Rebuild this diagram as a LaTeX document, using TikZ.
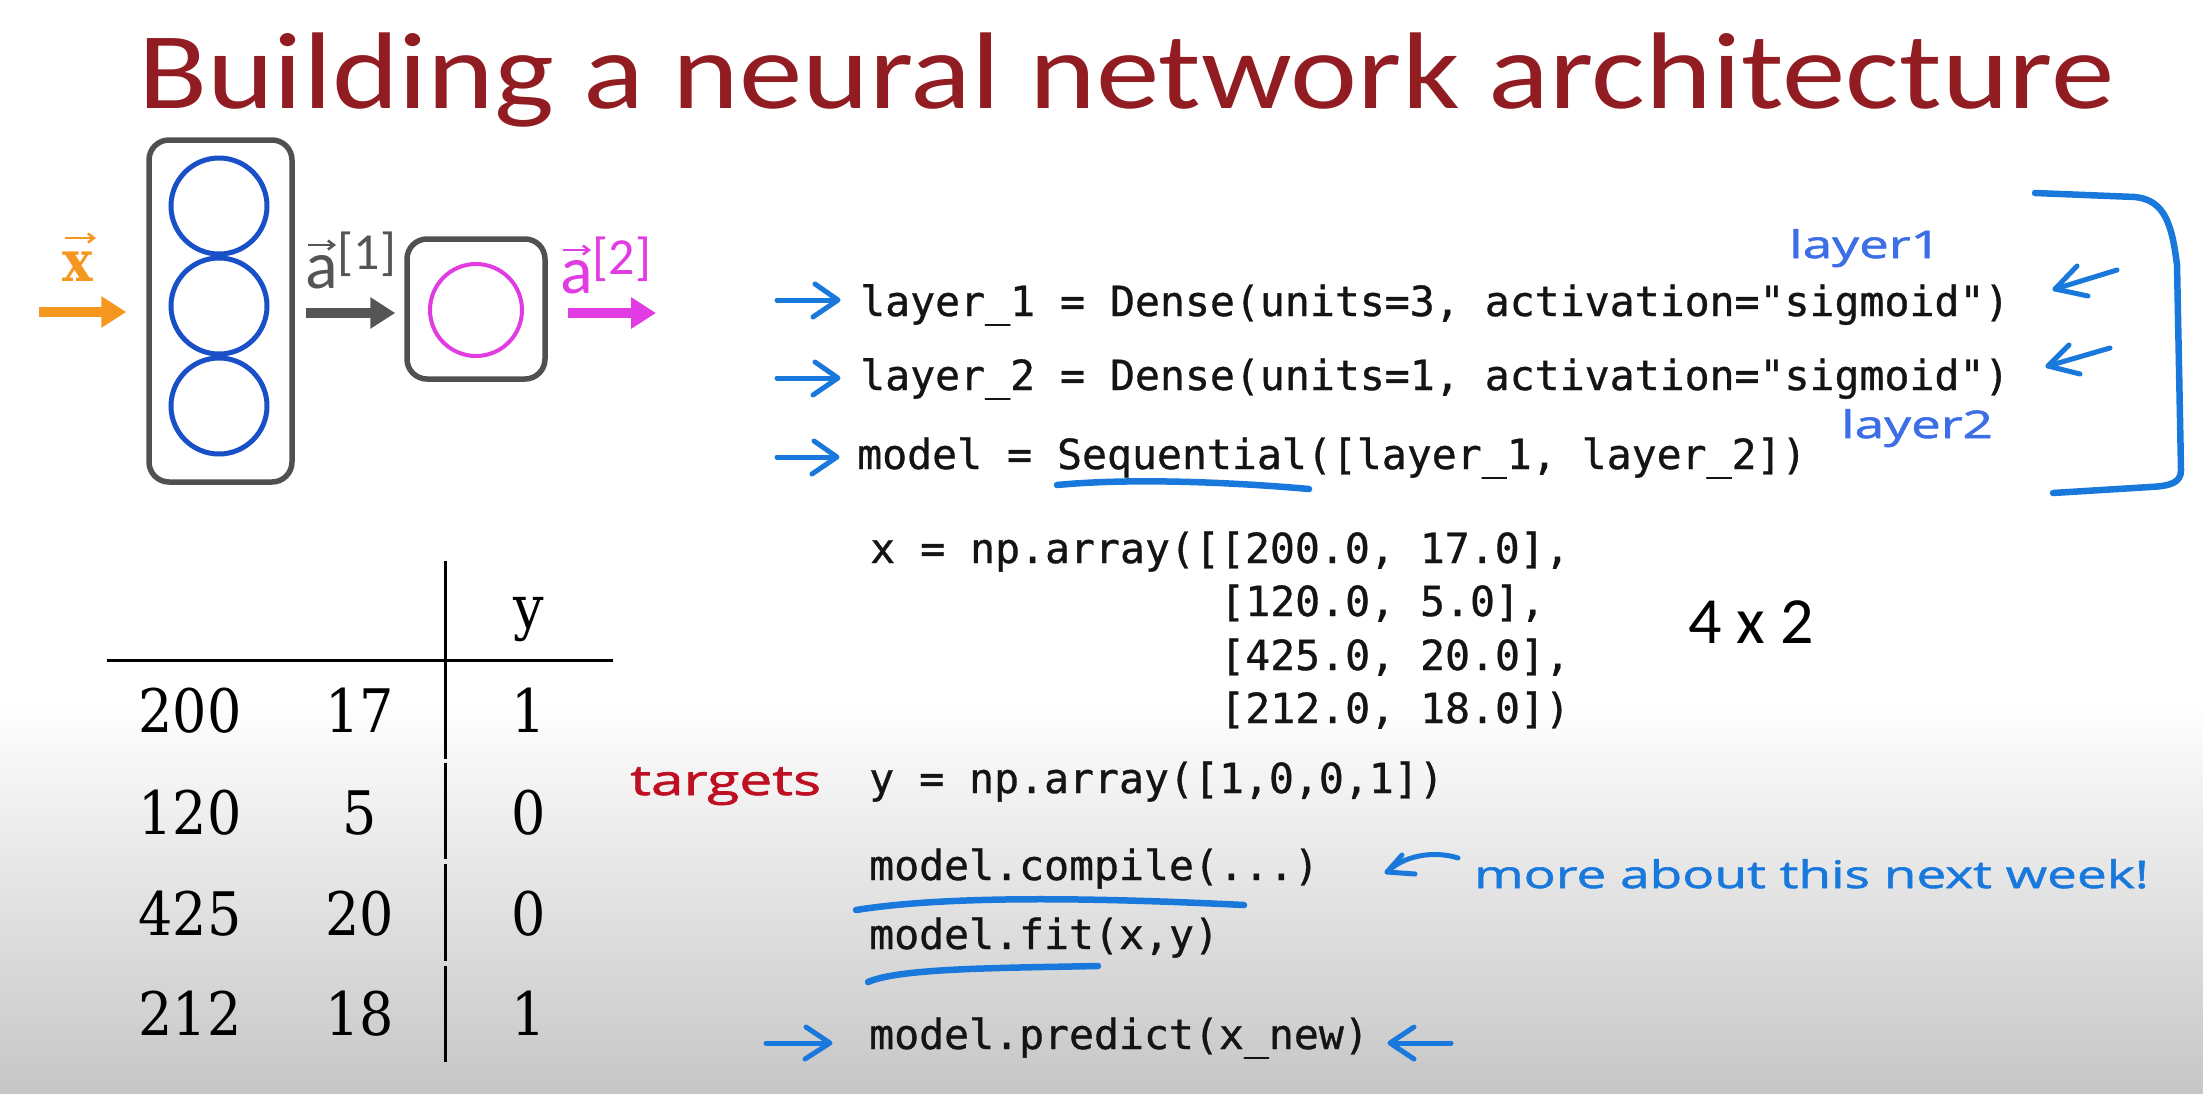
\documentclass[tikz,border=0pt]{standalone}
\usepackage{fontspec}
\usetikzlibrary{arrows.meta}
\newfontfamily\carlito{Carlito}
\newfontfamily\titlefont[FakeStretch=1.165]{Carlito}
\newfontfamily\codefont[FakeBold=0.8]{DejaVu Sans Mono}
\newfontfamily\handfont[FakeStretch=1.4, FakeBold=1.6]{Open Sans}
\newfontfamily\tabfont[FakeStretch=0.9]{DejaVu Serif}
\definecolor{titlered}{RGB}{145,28,33}
\definecolor{boxgray}{RGB}{80,80,80}
\definecolor{arrgray}{RGB}{85,85,85}
\definecolor{nblue}{RGB}{25,80,200}
\definecolor{nmag}{RGB}{225,60,225}
\definecolor{norange}{RGB}{245,150,30}
\definecolor{hblue}{RGB}{25,120,220}
\definecolor{hblue2}{RGB}{60,110,230}
\definecolor{hred}{RGB}{190,15,35}
\definecolor{bggray}{RGB}{198,198,198}
\definecolor{codeblack}{RGB}{20,20,20}
\tikzset{
  layerbox/.style={draw=boxgray, line width=5.5, rounded corners=20, inner sep=0},
  neuron/.style={circle, draw=nblue, line width=5, minimum size=96, inner sep=0},
  fatarrow/.style={line width=10, -{Triangle[length=25pt,width=30pt]}},
  vecarrow/.style={line width=2.5, -{Straight Barb[length=6pt,width=9pt,line width=2.5pt]}},
  code/.style={font=\codefont\fontsize{41.5}{41.5}\selectfont, text=codeblack, anchor=base west, inner sep=0},
  tab/.style={font=\tabfont\fontsize{60}{60}\selectfont, anchor=base, inner sep=0},
  tabline/.style={line width=3, draw=black},
  hand/.style={draw=hblue, line width=5, line cap=round, line join=round},
  handtext/.style={font=\handfont\fontsize{38}{38}\selectfont, anchor=base west, inner sep=0},
}
\begin{document}
\begin{tikzpicture}[x=1pt,y=-1pt]
\useasboundingbox (0,0) rectangle (2203,1093);
\fill[white] (0,0) rectangle (2203,1093);
\shade[top color=white, bottom color=bggray] (0,700) rectangle (2203,1093);

% title
\node[anchor=base west, inner sep=0, text=titlered, font=\titlefont\fontsize{109}{109}\selectfont] (title) at (138,108) {Building a neural network architecture};

% network
\node[layerbox, minimum width=143, minimum height=342] (L1) at (220.5,311) {};
\node[neuron] (n1) at (219,206) {};
\node[neuron] (n2) at (219,306) {};
\node[neuron] (n3) at (219,406) {};
\node[layerbox, minimum width=138, minimum height=140] (L2) at (476,309) {};
\node[circle, draw=nmag, line width=4, minimum size=92, inner sep=0] (m1) at (476,310) {};
\coordinate (xin) at (39,312);
\coordinate (aout) at (656,313);
\draw[fatarrow, draw=norange, fill=norange, shorten >=20pt] (xin) -- (L1.west |- xin);
\draw[fatarrow, draw=arrgray, fill=arrgray, shorten <=11pt, shorten >=9pt] (L1.east |- aout) -- (L2.west |- aout);
\draw[fatarrow, draw=nmag, fill=nmag, shorten <=20pt] (L2.east |- aout) -- (aout);
% labels
\node[anchor=base west, inner sep=0, text=norange, font=\tabfont\bfseries\fontsize{57}{57}\selectfont] (xlab) at (62,281) {x};
\coordinate (xv) at (65,238);
\draw[vecarrow, norange] (xv) -- ++(31,0);
\node[anchor=base west, inner sep=0, text=arrgray, font=\carlito\fontsize{68}{68}\selectfont] (a1lab) at (305,288) {a\raisebox{19pt}{\fontsize{52}{52}\selectfont[1]}};
\coordinate (a1v) at (308,245);
\draw[vecarrow, arrgray] (a1v) -- ++(28,0);
\node[anchor=base west, inner sep=0, text=nmag, font=\carlito\fontsize{68}{68}\selectfont] (a2lab) at (560,293) {a\raisebox{19pt}{\fontsize{52}{52}\selectfont[2]}};
\coordinate (a2v) at (563,250);
\draw[vecarrow, nmag] (a2v) -- ++(28,0);

% code
\node[code] (c1) at (860,316) {layer\_1 = Dense(units=3, activation="sigmoid")};
\node[code] (c2) at (860,390) {layer\_2 = Dense(units=1, activation="sigmoid")};
\node[code] (c3) at (857,469) {model = Sequential([layer\_1, layer\_2])};
\node[code] (x1) at (870,563) {x = np.array([[200.0, 17.0],};
\node[code] (x2) at (1220,616) {[120.0, 5.0],};
\node[code] (x3) at (1220,670) {[425.0, 20.0],};
\node[code] (x4) at (1220,723) {[212.0, 18.0])};
\node[code] (yl) at (869,793) {y = np.array([1,0,0,1])};
\node[code] (cmp) at (869,880) {model.compile(...)};
\node[code] (fit) at (869,949) {model.fit(x,y)};
\node[code] (pred) at (869,1049) {model.predict(x\_new)};
\node[anchor=base west, inner sep=0, font=\carlito\fontsize{66}{66}\selectfont] (dim) at (1688,643) {4 x 2};

% handwriting
\node[handtext, text=hred, font=\handfont\fontsize{42}{42}\selectfont] (tg) at (630,795) {targets};
\node[handtext, text=hblue2] (ly1) at (1789,258) {layer1};
\node[handtext, text=hblue2] (ly2) at (1841,438) {layer2};
\node[handtext, text=hblue] (more) at (1474,888) {more about this next week!};

% hand arrows to code lines
\draw[hand] (777,300) -- (837,300);
\draw[hand] (815,284) -- (838,300) -- (813,317);
\draw[hand] (777,378) -- (837,378);
\draw[hand] (815,362) -- (838,378) -- (813,395);
\draw[hand] (777,457) -- (836,457);
\draw[hand] (814,441) -- (837,457) -- (812,474);
\draw[hand] (766,1043) -- (828,1043);
\draw[hand] (806,1027) -- (830,1043) -- (805,1059);
\draw[hand] (1451,1043) -- (1392,1043);
\draw[hand] (1414,1027) -- (1390,1043) -- (1414,1059);
\draw[hand] (1458,858) .. controls (1440,852) and (1408,852) .. (1387,872);
\draw[hand] (1402,855) -- (1387,872) -- (1415,874);
% small arrows near layer labels
\draw[hand] (2117,270) -- (2055,289);
\draw[hand] (2077,266) -- (2055,289) -- (2088,296);
\draw[hand] (2110,348) -- (2048,366);
\draw[hand] (2069,345) -- (2048,366) -- (2080,374);
% bracket
\draw[hand, line width=6.5] (2035,193) -- (2135,197) .. controls (2165,200) and (2172,225) .. (2177,265) -- (2181,470) .. controls (2181,483) and (2170,486) .. (2150,487) -- (2053,493);
% underlines
\draw[hand, line width=6.5] (1057,485) .. controls (1130,478) and (1230,482) .. (1309,489);
\draw[hand, line width=6.5] (856,910) .. controls (950,895) and (1100,898) .. (1244,905);
\draw[hand, line width=6.5] (868,982) .. controls (900,968) and (1000,968) .. (1098,966);

% table
\draw[tabline] (107,660) -- (613,660);
\draw[tabline] (445,561) -- (445,759);
\draw[tabline] (445,763) -- (445,859);
\draw[tabline] (445,864) -- (445,961);
\draw[tabline] (445,966) -- (445,1062);
\node[tab] (ty) at (529,628) {y};
\node[tab] (r11) at (190,732) {200};
\node[tab] (r12) at (360,732) {17};
\node[tab] (r13) at (529,732) {1};
\node[tab] (r21) at (190,834) {120};
\node[tab] (r22) at (360,834) {5};
\node[tab] (r23) at (529,834) {0};
\node[tab] (r31) at (190,935) {425};
\node[tab] (r32) at (360,935) {20};
\node[tab] (r33) at (529,935) {0};
\node[tab] (r41) at (190,1035) {212};
\node[tab] (r42) at (360,1035) {18};
\node[tab] (r43) at (529,1035) {1};
\end{tikzpicture}
\end{document}
